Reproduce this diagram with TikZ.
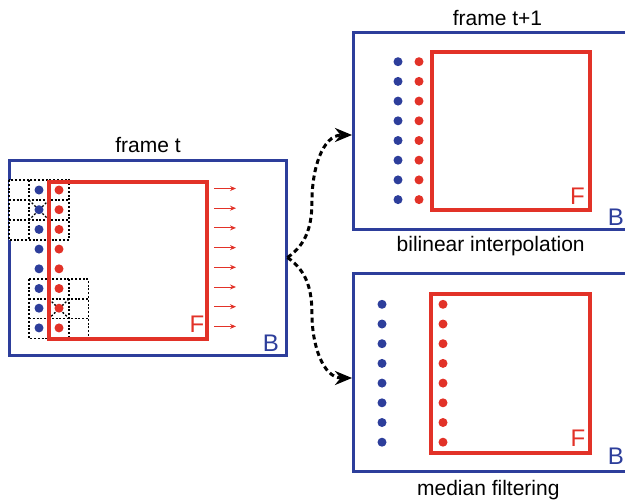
\documentclass[tikz,border=0pt]{standalone}
\usepackage{fontspec}
\setmainfont{Liberation Sans}
\usetikzlibrary{arrows.meta}
\definecolor{blueB}{RGB}{45,62,155}
\definecolor{redF}{RGB}{226,50,40}

\begin{document}
\begin{tikzpicture}[x=1pt, y=-1pt,
	every node/.style={inner sep=0pt},
	framebox/.style={draw=blueB, line width=3pt, minimum width=277pt},
	fbox/.style={draw=redF, line width=3.5pt},
	bdot/.style={circle, fill=blueB, minimum size=9pt},
	rdot/.style={circle, fill=redF, minimum size=9pt},
	cell/.style={dash pattern=on 2pt off 1.8pt, line width=1.3pt},
	motion/.style={redF, line width=1pt, -{Stealth[length=6pt, width=5pt]}},
	flow/.style={line width=3pt, dash pattern=on 5pt off 3.5pt, -{Stealth[length=17pt, width=14pt]}},
	caption/.style={font=\fontsize{21}{25}\selectfont, anchor=base},
	letter/.style={font=\fontsize{24}{28}\selectfont, anchor=base}
	]
	\useasboundingbox (0,0) rectangle (625,501);
	% \draw[help lines] (0,0) grid (625,501);

	% the three frames
	\node[framebox, minimum height=195pt] (framet) at (147.5,257.5) {};
	\node[framebox, minimum height=197pt] (frameip) at (491.5,130.5) {};
	\node[framebox, minimum height=198pt] (framemf) at (491.5,372) {};
	\node[caption] (tt) at (148,152.7) {frame t};
	\node[caption] (tn) at (497.5,25) {frame t+1};
	\node[caption] (cip) at (490.7,251.7) {bilinear interpolation};
	\node[caption] (cmf) at (488.3,495) {median filtering};

	% neighbourhood windows
	\filldraw[cell, fill=white] (9,180) rectangle (69,240);
	\draw[cell] (29,180) -- (29,240);
	\draw[cell] (49,180) -- (49,240);
	\draw[cell] (9,200) -- (69,200);
	\draw[cell] (9,220) -- (69,220);
	\draw[cell] (29,200) -- (49,220);
	\draw[cell] (49,200) -- (29,220);
	\filldraw[cell, fill=white] (29,279) rectangle (88.5,338.5);
	\draw[cell] (49,279) -- (49,338.5);
	\draw[cell] (69,279) -- (69,338.5);
	\draw[cell] (29,299) -- (88.5,299);
	\draw[cell] (29,318.5) -- (88.5,318.5);
	\draw[cell] (49,299) -- (69,318.5);
	\draw[cell] (69,299) -- (49,318.5);

	% foreground boxes
	\node[fbox, minimum width=158pt, minimum height=157pt] (ft) at (128,260.5) {};
	\node[fbox, minimum size=158pt] (fip) at (511,131) {};
	\node[fbox, minimum size=159pt] (fmf) at (510.5,373.5) {};
	\node[letter, redF] (ftl) at (197,332.3) {F};
	\node[letter, redF] (fipl) at (577.5,204) {F};
	\node[letter, redF] (fmfl) at (578,446.7) {F};
	\node[letter, blueB] (btl) at (271,351) {B};
	\node[letter, blueB] (bipl) at (616,225) {B};
	\node[letter, blueB] (bmfl) at (616,464) {B};

	% frame t
	\node[bdot] (tb1) at (39,190) {};
	\node[bdot] (tb2) at (39,209.7) {};
	\node[bdot] (tb3) at (39,229.4) {};
	\node[bdot] (tb4) at (39,249.1) {};
	\node[bdot] (tb5) at (39,268.8) {};
	\node[bdot] (tb6) at (39,288.5) {};
	\node[bdot] (tb7) at (39,308.2) {};
	\node[bdot] (tb8) at (39,327.9) {};
	\node[rdot] (tr1) at (59,190) {};
	\node[rdot] (tr2) at (59,209.7) {};
	\node[rdot] (tr3) at (59,229.4) {};
	\node[rdot] (tr4) at (59,249.1) {};
	\node[rdot] (tr5) at (59,268.8) {};
	\node[rdot] (tr6) at (59,288.5) {};
	\node[rdot] (tr7) at (59,308.2) {};
	\node[rdot] (tr8) at (59,327.9) {};
	\draw[motion] (214,188.5) -- (236,188.5);
	\draw[motion] (214,208.2) -- (236,208.2);
	\draw[motion] (214,227.9) -- (236,227.9);
	\draw[motion] (214,247.6) -- (236,247.6);
	\draw[motion] (214,267.3) -- (236,267.3);
	\draw[motion] (214,287) -- (236,287);
	\draw[motion] (214,306.7) -- (236,306.7);
	\draw[motion] (214,326.4) -- (236,326.4);

	% frame t+1, interpolated
	\node[bdot] (ib1) at (398,61.7) {};
	\node[bdot] (ib2) at (398,81.4) {};
	\node[bdot] (ib3) at (398,101.1) {};
	\node[bdot] (ib4) at (398,120.8) {};
	\node[bdot] (ib5) at (398,140.5) {};
	\node[bdot] (ib6) at (398,160.2) {};
	\node[bdot] (ib7) at (398,179.9) {};
	\node[bdot] (ib8) at (398,199.6) {};
	\node[rdot] (ir1) at (419,61.7) {};
	\node[rdot] (ir2) at (419,81.4) {};
	\node[rdot] (ir3) at (419,101.1) {};
	\node[rdot] (ir4) at (419,120.8) {};
	\node[rdot] (ir5) at (419,140.5) {};
	\node[rdot] (ir6) at (419,160.2) {};
	\node[rdot] (ir7) at (419,179.9) {};
	\node[rdot] (ir8) at (419,199.6) {};

	% frame t+1, median filtered
	\node[bdot] (mb1) at (382,304.3) {};
	\node[bdot] (mb2) at (382,324) {};
	\node[bdot] (mb3) at (382,343.7) {};
	\node[bdot] (mb4) at (382,363.4) {};
	\node[bdot] (mb5) at (382,383.1) {};
	\node[bdot] (mb6) at (382,402.8) {};
	\node[bdot] (mb7) at (382,422.5) {};
	\node[bdot] (mb8) at (382,442.2) {};
	\node[rdot] (mr1) at (443,304.3) {};
	\node[rdot] (mr2) at (443,324) {};
	\node[rdot] (mr3) at (443,343.7) {};
	\node[rdot] (mr4) at (443,363.4) {};
	\node[rdot] (mr5) at (443,383.1) {};
	\node[rdot] (mr6) at (443,402.8) {};
	\node[rdot] (mr7) at (443,422.5) {};
	\node[rdot] (mr8) at (443,442.2) {};

	% split
	\coordinate (upbend) at (312,200);
	\coordinate (downbend) at (312,315);
	\coordinate (bilin) at (352,135);
	\coordinate (median) at (352,378);
	\draw[flow] (framet.east) to[out=35, in=-90] (upbend) to[out=90, in=180] (bilin);
	\draw[flow] (framet.east) to[out=-35, in=90] (downbend) to[out=-90, in=180] (median);
\end{tikzpicture}
\end{document}
